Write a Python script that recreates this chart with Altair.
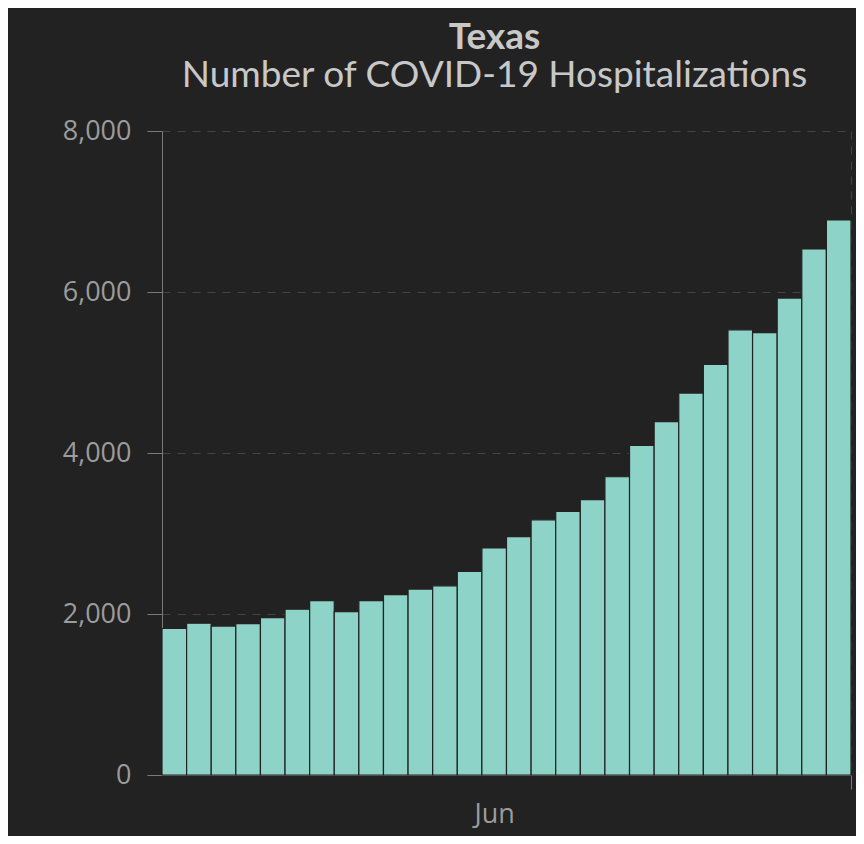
import altair as alt
import pandas as pd

# Daily dates (Jun 4 – Jul 1, 2020)
dates = pd.date_range("2020-06-04", "2020-07-01", freq="D")
hospitalizations = [
    1820, 1885, 1850, 1880, 1955, 2060, 2165, 2030, 2165, 2240,
    2310, 2350, 2530, 2820, 2960, 3170, 3275, 3420, 3705, 4095,
    4390, 4745, 5100, 5530, 5495, 5925, 6535, 6895,
]
y_ticks = [0, 2000, 4000, 6000, 8000]

df = pd.DataFrame({
    "start": [d.strftime("%Y-%m-%dT00:00:00Z") for d in dates],
    "end": [(d + pd.Timedelta(days=1)).strftime("%Y-%m-%dT00:00:00Z") for d in dates],
    "value": hospitalizations,
})

bg = "#222222"
label_color = "#9c9c9c"
axis_color = "#7a7a7a"
grid_color = "#444444"

x_axis = alt.Axis(
    title="",
    values=[
        alt.DateTime(year=2020, month=6, date=17, hours=12, utc=True),
        alt.DateTime(year=2020, month=7, date=2, utc=True),
    ],
    labelExpr="utcmonth(datum.value) == 5 ? 'Jun' : ''",
    tickOpacity={"condition": {"test": "utcmonth(datum.value) == 5", "value": 0}, "value": 1},
    gridOpacity={"condition": {"test": "utcmonth(datum.value) == 5", "value": 0}, "value": 1},
    grid=True,
    gridDash=[8, 7],
    gridColor=grid_color,
    domainColor=axis_color,
    tickColor=axis_color,
    tickSize=14,
    labelPadding=12,
    labelFontSize=27,
    labelFont="Open Sans",
    labelColor=label_color,
)

y_axis = alt.Axis(
    title="",
    values=y_ticks,
    format=",.0f",
    grid=True,
    gridDash=[8, 7],
    gridColor=grid_color,
    domainColor=axis_color,
    tickColor=axis_color,
    tickSize=15,
    labelPadding=16,
    labelFontSize=27,
    labelFont="Open Sans",
    labelColor=label_color,
)

chart = (
    alt.Chart(df)
    .mark_bar(color="#8dd3c7", stroke=bg, strokeWidth=1.2)
    .encode(
        x=alt.X(
            "start:T",
            scale=alt.Scale(
                type="utc",
                domain=[
                    alt.DateTime(year=2020, month=6, date=4, utc=True),
                    alt.DateTime(year=2020, month=7, date=2, utc=True),
                ],
            ),
            axis=x_axis,
        ),
        x2="end:T",
        y=alt.Y("value:Q", scale=alt.Scale(domain=[0, 8000], nice=False), axis=y_axis),
        y2=alt.datum(0),
    )
    .properties(
        width=689,
        height=644,
        padding={"left": 154, "top": 123, "right": 5, "bottom": 61},
        autosize=alt.AutoSizeParams(type="none"),
        background=bg,
        title=alt.TitleParams(
            text="Texas",
            subtitle="Number of COVID-19 Hospitalizations",
            font="Lato",
            subtitleFont="Lato",
            fontSize=37,
            subtitleFontSize=37,
            fontWeight="bold",
            subtitleFontWeight="normal",
            color="#c8c8c8",
            subtitleColor="#c8c8c8",
            anchor="middle",
            dx=-12,
            offset=22,
            subtitlePadding=1,
        ),
    )
    .configure_view(stroke=None)
)

chart.save("out.html", embed_options={"renderer": "svg", "actions": False})
